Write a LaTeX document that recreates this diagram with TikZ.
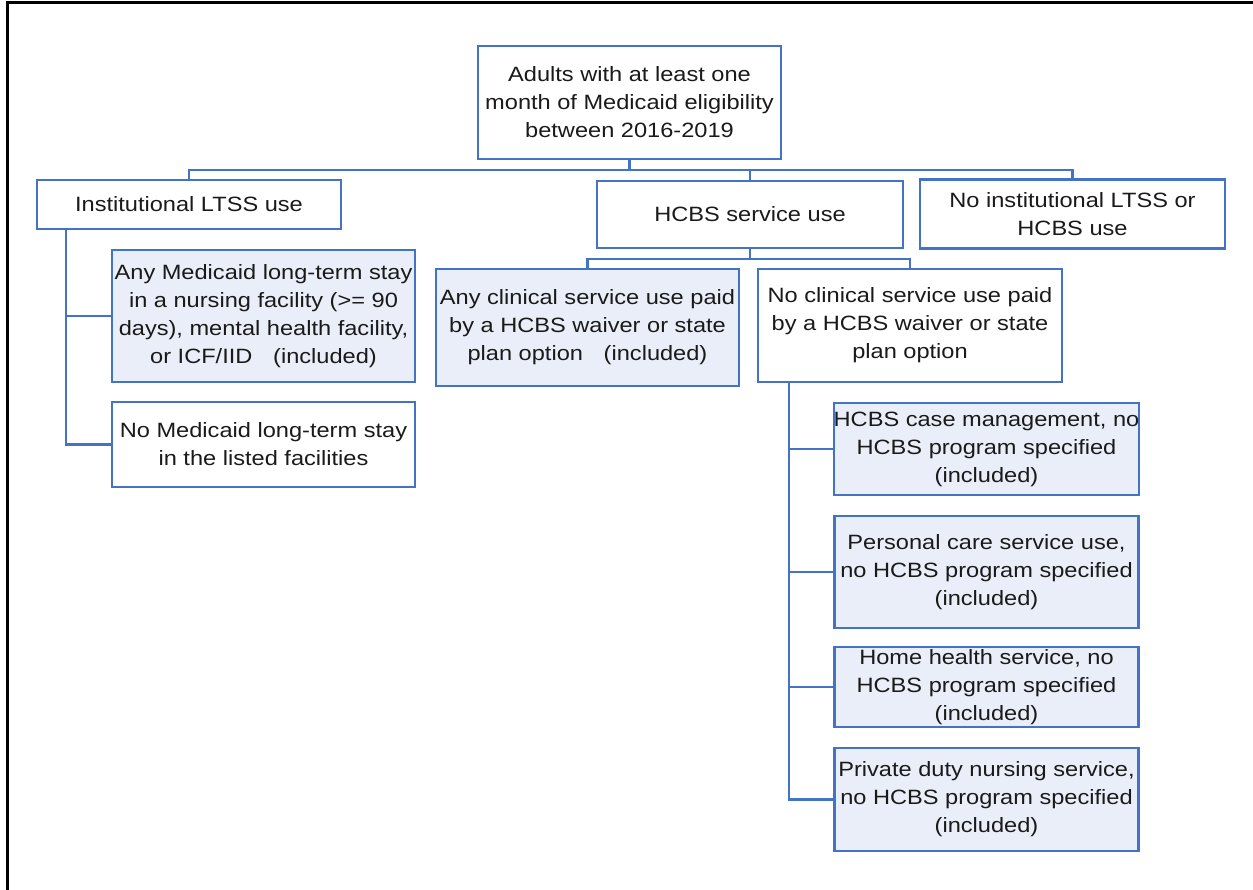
\documentclass[tikz,border=0pt]{standalone}
\usepackage{fontspec}
\setmainfont{Liberation Sans}[FakeStretch=1.14]
\definecolor{boxblue}{HTML}{4472C4}
\definecolor{boxfill}{HTML}{E9EEF8}
\definecolor{txt}{HTML}{1A1A1A}
\tikzset{
  box/.style={draw=boxblue, line width=2.2pt, fill=white, inner sep=0pt, align=center,
    text=txt, font=\fontsize{20.7}{28}\selectfont},
  incl/.style={box, fill=boxfill},
  conn/.style={draw=boxblue, line width=2.2pt},
  frame/.style={draw=black, line width=3pt}
}
\begin{document}
\begin{tikzpicture}[x=1pt,y=-1pt]
\useasboundingbox (0,0) rectangle (1253,890);
\draw[frame] (7,890) -- (7,3) -- (1253,3);
% nodes: center positions and sizes
\node[box, minimum width=303pt, minimum height=113pt] (top) at (629.5,102.5) {Adults with at least one\\month of Medicaid eligibility\\between 2016-2019};
\node[box, minimum width=304pt, minimum height=49pt] (inst) at (189,204.5) {Institutional LTSS use};
\node[box, minimum width=306pt, minimum height=67pt] (hcbs) at (750,214.5) {HCBS service use};
\node[box, minimum width=305pt, minimum height=69pt] (none) at (1072.5,214) {No institutional LTSS or\\HCBS use};
\node[incl, minimum width=303pt, minimum height=132pt] (longstay) at (263.5,316) {Any Medicaid long-term stay\\in a nursing facility (>= 90\\days), mental health facility,\\or ICF/IID\quad(included)};
\node[box, minimum width=303pt, minimum height=85pt] (nostay) at (263.5,444.5) {No Medicaid long-term stay\\in the listed facilities};
\node[incl, minimum width=303pt, minimum height=117pt] (anyclin) at (587.5,327.5) {Any clinical service use paid\\by a HCBS waiver or state\\plan option\quad(included)};
\node[box, minimum width=304pt, minimum height=113pt] (noclin) at (910,325.5) {No clinical service use paid\\by a HCBS waiver or state\\plan option};
\node[incl, minimum width=304pt, minimum height=92pt] (casemgmt) at (986.5,449) {HCBS case management, no\\HCBS program specified\\(included)};
\node[incl, minimum width=304pt, minimum height=112pt] (personal) at (986.5,572) {Personal care service use,\\no HCBS program specified\\(included)};
\node[incl, minimum width=304pt, minimum height=80pt] (homehealth) at (986.5,687) {Home health service, no\\HCBS program specified\\(included)};
\node[incl, minimum width=304pt, minimum height=103pt] (private) at (986.5,799.5) {Private duty nursing service,\\no HCBS program specified\\(included)};
% connectors
\coordinate (bus1) at (627,170);
\coordinate (bus2) at (750,259);
\draw[conn] (top.south) -- (top.south |- bus1);
\draw[conn] (inst.north) |- (none.north |- bus1) -- (none.north);
\draw[conn] (hcbs.north) -- (hcbs.north |- bus1);
\draw[conn] (hcbs.south) -- (bus2);
\draw[conn] (anyclin.north) |- (noclin.north |- bus2) -- (noclin.north);
\coordinate (instL) at ([xshift=30pt]inst.south west);
\draw[conn] (instL) |- (nostay.west);
\draw[conn] (instL |- longstay.west) -- (longstay.west);
\coordinate (noclinL) at ([xshift=32pt]noclin.south west);
\draw[conn] (noclinL) |- (private.west);
\draw[conn] (noclinL |- casemgmt.west) -- (casemgmt.west);
\draw[conn] (noclinL |- personal.west) -- (personal.west);
\draw[conn] (noclinL |- homehealth.west) -- (homehealth.west);
\end{tikzpicture}
\end{document}
